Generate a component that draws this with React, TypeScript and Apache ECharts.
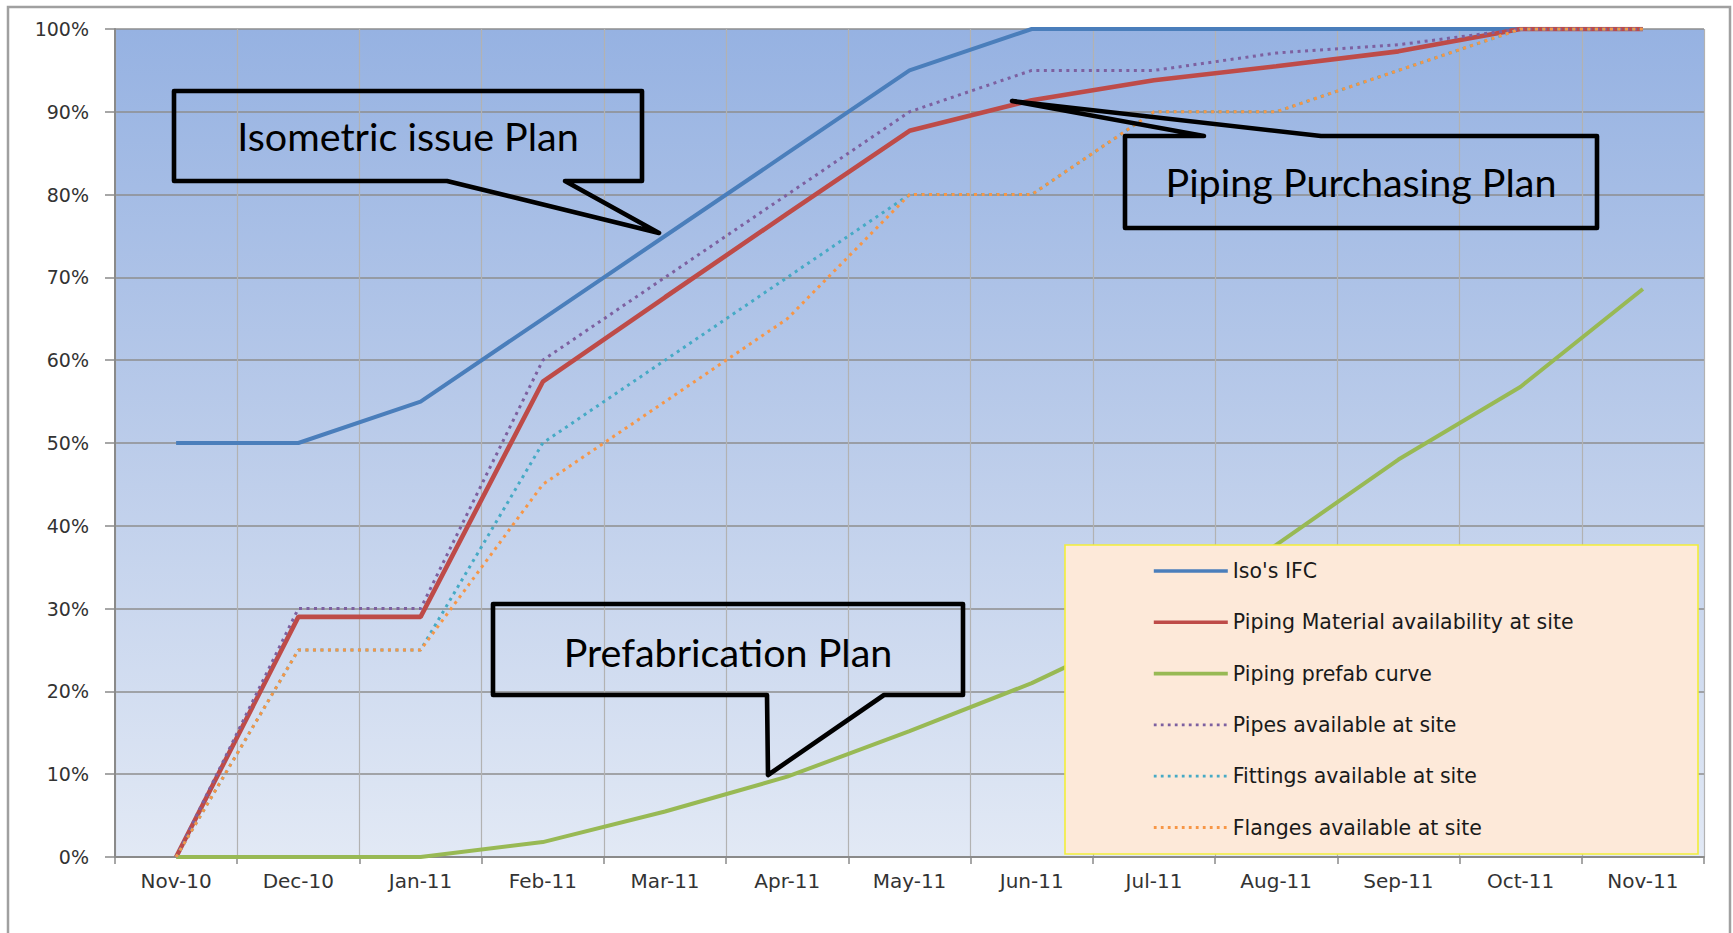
import React, { useEffect, useRef } from "react";
import * as echarts from "echarts";

const months = ["Nov-10", "Dec-10", "Jan-11", "Feb-11", "Mar-11", "Apr-11", "May-11", "Jun-11", "Jul-11", "Aug-11", "Sep-11", "Oct-11", "Nov-11"];
const isoIFC = [50, 50, 55, 65, 75, 85, 95, 100, 100, 100, 100, 100, 100];
const pipingMaterial = [0, 29, 29, 57.4, 67.6, 77.7, 87.7, 91.4, 93.8, 95.5, 97.3, 100, 100];
const prefabCurve = [0, 0, 0, 1.8, 5.5, 9.7, 15.2, 21, 28, 37.7, 48, 56.8, 68.6];
const pipesAvail = [0, 30, 30, 60, 70, 80, 90, 95, 95, 97.1, 98.1, 100, 100];
const fittingsAvail = [0, 25, 25, 50, 60, 70, 80, 80, 90, 90, 95, 100, 100];
const flangesAvail = [0, 25, 25, 45, 55, 65, 80, 80, 90, 90, 95, 100, 100];

const seriesNames = [
  "Iso's IFC",
  "Piping Material availability at site",
  "Piping prefab curve",
  "Pipes available at site",
  "Fittings available at site",
  "Flanges available at site",
];
const calloutTexts = ["Isometric issue Plan", "Piping Purchasing Plan", "Prefabrication Plan"];

export default function App() {
  const ref = useRef<HTMLDivElement>(null);

  useEffect(() => {
    if (!ref.current) return;
    const chart = echarts.init(ref.current, undefined, { renderer: "svg" });

    const solid = (name: string, data: number[], color: string, width: number) => ({
      name,
      type: "line",
      data,
      symbol: "none",
      smooth: false,
      lineStyle: { color, width, type: "solid" },
      itemStyle: { color },
      z: 2,
    });
    const dotted = (name: string, data: number[], color: string) => ({
      name,
      type: "line",
      data,
      symbol: "none",
      lineStyle: { color, width: 3, type: [3, 4.5] },
      itemStyle: { color },
      z: 2,
    });

    const calloutStroke = { fill: "none", stroke: "#000", lineWidth: 4.6, lineJoin: "round" };
    const calloutFont = "39.5px Lato";

    const legendData = seriesNames.map((name, i) => ({
      name,
      lineStyle: i < 3 ? { width: 3.6 } : { width: 2.8, type: [2.8, 4.2] },
    }));

    chart.setOption({
      animation: false,
      grid: {
        left: 115,
        right: 29,
        top: 29,
        bottom: 76,
        show: true,
        borderWidth: 0,
        backgroundColor: new echarts.graphic.LinearGradient(0, 0, 0, 1, [
          { offset: 0, color: "#96B2E2" },
          { offset: 0.5, color: "#BBCCEA" },
          { offset: 1, color: "#E2E9F5" },
        ]),
      },
      xAxis: {
        type: "category",
        data: months,
        boundaryGap: true,
        axisLine: { show: true, lineStyle: { color: "#8a8a8a", width: 2 } },
        axisTick: { show: true, length: 7, lineStyle: { color: "#8a8a8a", width: 1.5 } },
        axisLabel: {
          margin: 14,
          color: "#333333",
          fontFamily: "DejaVu Sans",
          fontSize: 20,
        },
        splitLine: { show: true, lineStyle: { color: "#b2b2b2", width: 1.2 } },
      },
      yAxis: {
        type: "value",
        min: 0,
        max: 100,
        interval: 10,
        axisLine: { show: true, lineStyle: { color: "#8a8a8a", width: 2 } },
        axisTick: { show: true, length: 10, lineStyle: { color: "#8a8a8a", width: 1.5 } },
        axisLabel: {
          formatter: "{value}%",
          margin: 26,
          color: "#333333",
          fontFamily: "DejaVu Sans",
          fontSize: 19,
        },
        splitLine: { show: true, lineStyle: { color: "#8e8e8e", width: 1.6 } },
      },
      legend: {
        orient: "vertical",
        left: 1147,
        top: 555,
        itemWidth: 74,
        itemHeight: 22,
        itemGap: 29.3,
        data: legendData,
        itemStyle: { color: "rgba(0,0,0,0)", borderColor: "rgba(0,0,0,0)", borderWidth: 0, opacity: 0 },
        textStyle: {
          fontFamily: "DejaVu Sans",
          fontSize: 20.5,
          color: "#1a1a1a",
          lineHeight: 22,
        },
        z: 6,
      },
      series: [
        solid(seriesNames[0], isoIFC, "#4A7EBB", 4),
        solid(seriesNames[1], pipingMaterial, "#BE4B48", 4.6),
        solid(seriesNames[2], prefabCurve, "#98B954", 4),
        dotted(seriesNames[3], pipesAvail, "#7D60A0"),
        dotted(seriesNames[4], fittingsAvail, "#46AAC5"),
        dotted(seriesNames[5], flangesAvail, "#F79646"),
      ],
      graphic: [
        {
          type: "rect",
          z: 1,
          silent: true,
          shape: { x: 8, y: 7, width: 1722, height: 960 },
          style: { fill: "none", stroke: "#a0a0a0", lineWidth: 2.5 },
        },
        {
          type: "rect",
          z: 5,
          silent: true,
          shape: { x: 1065, y: 545, width: 633, height: 309 },
          style: { fill: "#FDE9D9", stroke: "#F2EE3A", lineWidth: 1.6 },
        },
        {
          type: "polygon",
          z: 10,
          silent: true,
          shape: {
            points: [
              [174, 91], [642, 91], [642, 181], [565, 181], [659, 233], [447, 181], [174, 181],
            ],
          },
          style: calloutStroke,
        },
        {
          type: "text",
          z: 11,
          silent: true,
          style: { text: calloutTexts[0], x: 408, y: 135, font: calloutFont, fill: "#000", align: "center", verticalAlign: "middle" },
        },
        {
          type: "polygon",
          z: 10,
          silent: true,
          shape: {
            points: [
              [1125, 136], [1204, 136], [1012, 101], [1321, 136], [1597, 136], [1597, 228], [1125, 228],
            ],
          },
          style: calloutStroke,
        },
        {
          type: "text",
          z: 11,
          silent: true,
          style: { text: calloutTexts[1], x: 1361, y: 181, font: calloutFont, fill: "#000", align: "center", verticalAlign: "middle" },
        },
        {
          type: "polygon",
          z: 10,
          silent: true,
          shape: {
            points: [
              [493, 604], [963, 604], [963, 695], [884, 695], [768, 775], [767, 695], [493, 695],
            ],
          },
          style: calloutStroke,
        },
        {
          type: "text",
          z: 11,
          silent: true,
          style: { text: calloutTexts[2], x: 728, y: 651, font: calloutFont, fill: "#000", align: "center", verticalAlign: "middle" },
        },
      ],
    });

    return () => chart.dispose();
  }, []);

  return (
    <div
      ref={ref}
      style={{ position: "absolute", left: 0, top: 0, width: 1733, height: 933, background: "#ffffff" }}
    />
  );
}
